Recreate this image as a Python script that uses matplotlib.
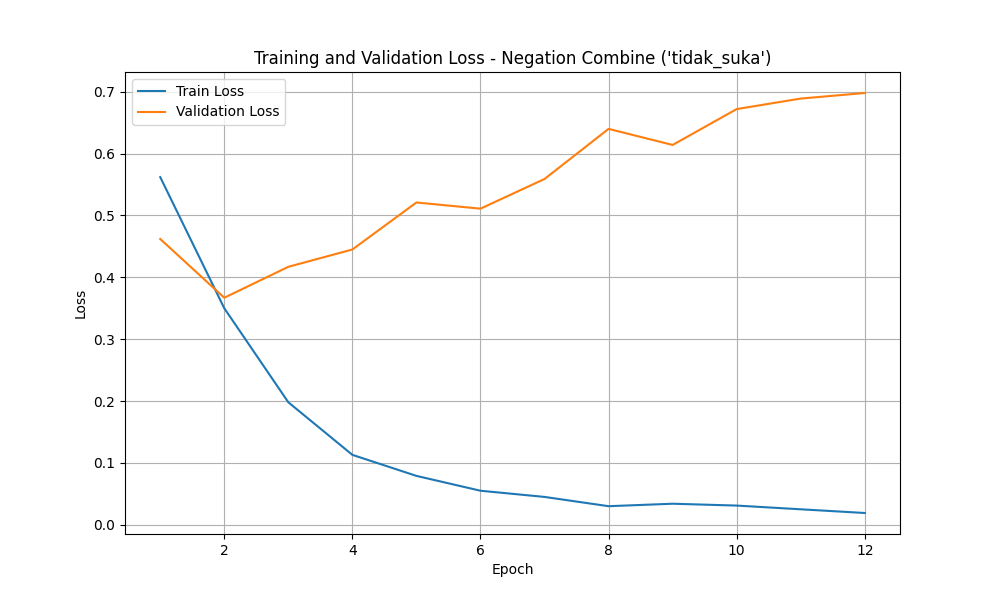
import matplotlib
matplotlib.use("Agg")
from matplotlib import pyplot as plt

epochs = list(range(1, 13))
train_loss = [0.562, 0.350, 0.198, 0.113, 0.079, 0.055, 0.045, 0.030, 0.034, 0.031, 0.025, 0.019]
val_loss = [0.462, 0.367, 0.417, 0.445, 0.521, 0.511, 0.559, 0.640, 0.614, 0.672, 0.689, 0.698]

fig = plt.figure(figsize=(10, 6), dpi=100)
ax = fig.add_subplot(111)
ax.plot(epochs, train_loss, label='Train Loss')
ax.plot(epochs, val_loss, label='Validation Loss')
ax.set_title("Training and Validation Loss - Negation Combine ('tidak_suka')")
ax.set_xlabel('Epoch')
ax.set_ylabel('Loss')
ax.legend()
ax.grid(True)
fig.savefig('out.png')
